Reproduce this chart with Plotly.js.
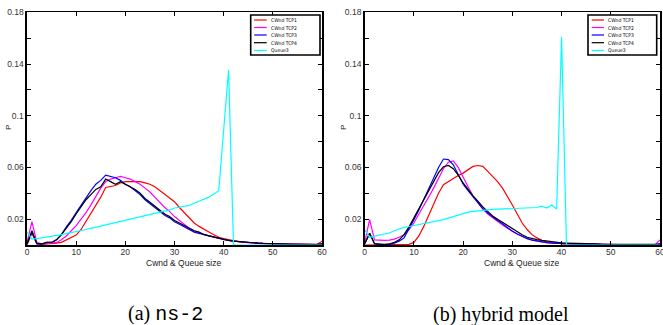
<!DOCTYPE html>
<html><head><meta charset="utf-8">
<script src="https://cdn.plot.ly/plotly-3.0.1.min.js"></script>
<style>html,body{margin:0;padding:0;background:#fff;}</style>
</head><body>
<div id="chart" style="width:663px;height:325px;"></div>
<script>
const X = [0,1,2,3,4,5,6,7,8,9,10,11,12,13,14,15,16,17,18,19,20,21,22,23,24,25,26,27,28,29,30,31,32,33,34,35,36,37,38,39,40,41,42,43,44,45,46,47,48,49,50,51,52,53,54,55,56,57,58,59,60];
const seriesNames = ['CWnd TCP1','CWnd TCP2','CWnd TCP3','CWnd TCP4','Queue3'];
const seriesColors = ['#ff0000','#ff00ff','#0000ff','#000000','#00ffff'];

// (a) ns-2
const ns2_tcp1 = [0,0.009,0.001,0.0005,0.0008,0.001,0.0015,0.002,0.004,0.006,0.0077,0.012,0.018,0.024,0.030,0.037,0.0445,0.045,0.046,0.048,0.049,0.049,0.0492,0.049,0.048,0.047,0.045,0.042,0.039,0.036,0.0335,0.029,0.025,0.021,0.017,0.0144,0.012,0.010,0.008,0.006,0.005,0.004,0.0032,0.0026,0.0022,0.0018,0.0015,0.0013,0.0011,0.001,0.0009,0.0008,0.0007,0.0006,0.0005,0.0004,0.0004,0.0003,0.0003,0.0003,0.003];
const ns2_tcp2 = [0.002,0.018,0.002,0.001,0.001,0.0015,0.002,0.004,0.007,0.011,0.015,0.020,0.025,0.031,0.038,0.044,0.049,0.051,0.052,0.053,0.052,0.051,0.049,0.047,0.044,0.041,0.037,0.033,0.029,0.026,0.022,0.019,0.016,0.013,0.011,0.0095,0.008,0.007,0.006,0.005,0.0042,0.0036,0.003,0.0026,0.0022,0.0019,0.0016,0.0014,0.0012,0.001,0.0009,0.0008,0.0007,0.0006,0.0005,0.0005,0.0004,0.0004,0.0003,0.0003,0.001];
const ns2_tcp3 = [0.001,0.010,0.001,0.0005,0.002,0.002,0.004,0.008,0.014,0.019,0.025,0.031,0.037,0.042,0.047,0.050,0.054,0.053,0.052,0.050,0.047,0.045,0.042,0.039,0.035,0.032,0.029,0.026,0.023,0.021,0.018,0.016,0.014,0.012,0.010,0.009,0.008,0.007,0.006,0.005,0.004,0.0035,0.003,0.0026,0.0022,0.0019,0.0016,0.0014,0.0012,0.001,0.0009,0.0008,0.0007,0.0006,0.0005,0.0005,0.0004,0.0004,0.0003,0.0003,0.001];
const ns2_tcp4 = [0.001,0.011,0.001,0.001,0.002,0.002,0.004,0.008,0.013,0.018,0.024,0.030,0.035,0.039,0.043,0.045,0.051,0.049,0.047,0.049,0.047,0.045,0.043,0.040,0.036,0.033,0.030,0.027,0.024,0.022,0.019,0.017,0.015,0.013,0.011,0.010,0.008,0.007,0.006,0.005,0.0042,0.0036,0.003,0.0026,0.0022,0.0019,0.0016,0.0014,0.0012,0.001,0.0009,0.0008,0.0007,0.0006,0.0005,0.0005,0.0004,0.0004,0.0003,0.0003,0.0005];
const ns2_queue = [0.010,0.0046,0.005,0.0055,0.006,0.0068,0.0075,0.008,0.0088,0.0095,0.0103,0.0112,0.012,0.0129,0.0138,0.0147,0.0155,0.0164,0.0173,0.0182,0.019,0.0199,0.0208,0.0217,0.0225,0.0234,0.0242,0.025,0.0258,0.0272,0.0286,0.0293,0.030,0.0306,0.0323,0.034,0.0355,0.037,0.0395,0.042,0.089,0.1354,0,0,0,0,0,0,0,0,0,0,0,0,0,0,0,0,0,0,0];

// (b) hybrid model
const hyb_tcp1 = [0,0,0,0,0,0,0,0,0,0.0005,0.002,0.007,0.0144,0.023,0.032,0.040,0.0466,0.049,0.0518,0.0537,0.0556,0.058,0.0608,0.0615,0.0608,0.057,0.053,0.049,0.044,0.038,0.031,0.024,0.017,0.012,0.008,0.0055,0.0036,0.0025,0.0018,0.0013,0.001,0.0009,0.0008,0.0007,0.0006,0.0005,0.0005,0.0004,0.0004,0.0004,0.0003,0.0003,0.0003,0.0003,0.0002,0.0002,0.0002,0.0002,0.0002,0.0002,0.0005];
const hyb_tcp2 = [0.002,0.0196,0.004,0.0036,0.0036,0.0038,0.0046,0.006,0.008,0.012,0.017,0.024,0.030,0.037,0.044,0.052,0.059,0.064,0.065,0.060,0.052,0.045,0.038,0.033,0.028,0.024,0.021,0.018,0.0155,0.013,0.0105,0.0085,0.0068,0.005,0.004,0.003,0.0023,0.0018,0.0015,0.0012,0.001,0.0009,0.0008,0.0007,0.0006,0.0005,0.0005,0.0004,0.0004,0.0004,0.0003,0.0003,0.0003,0.0003,0.0002,0.0002,0.0002,0.0002,0.0002,0.0002,0.004];
const hyb_tcp3 = [0.001,0.009,0.001,0.0003,0.0003,0.0005,0.0015,0.003,0.0055,0.012,0.0196,0.027,0.035,0.043,0.051,0.060,0.0665,0.066,0.062,0.055,0.047,0.042,0.0376,0.033,0.028,0.0247,0.0215,0.019,0.0165,0.0135,0.0106,0.0085,0.0065,0.0049,0.0038,0.003,0.0023,0.0018,0.0015,0.0012,0.001,0.0009,0.0008,0.0007,0.0006,0.0005,0.0005,0.0004,0.0004,0.0004,0.0003,0.0003,0.0003,0.0003,0.0002,0.0002,0.0002,0.0002,0.0002,0.0002,0.001];
const hyb_tcp4 = [0.001,0.009,0.001,0.0005,0.0005,0.0008,0.002,0.004,0.008,0.014,0.021,0.029,0.036,0.043,0.050,0.056,0.0605,0.0615,0.059,0.054,0.048,0.043,0.038,0.034,0.0295,0.026,0.0225,0.020,0.0175,0.015,0.0124,0.010,0.008,0.006,0.005,0.0042,0.0036,0.003,0.0025,0.002,0.0017,0.0015,0.0013,0.0012,0.0011,0.001,0.0009,0.0008,0.0007,0.0007,0.0006,0.0006,0.0005,0.0005,0.0005,0.0005,0.0005,0.0005,0.0005,0.0005,0.0005];
const hyb_queue = [0.0118,0.006,0.0068,0.0075,0.0085,0.0093,0.011,0.0125,0.0136,0.0143,0.015,0.0157,0.0163,0.017,0.0179,0.0188,0.0196,0.0208,0.022,0.0233,0.0247,0.0254,0.026,0.0265,0.027,0.0273,0.0275,0.0277,0.0278,0.028,0.0283,0.0285,0.0286,0.0288,0.0289,0.029,0.030,0.0286,0.031,0.0278,0.161,0,0,0,0,0,0,0,0,0,0,0,0,0,0,0,0,0,0,0,0];

const ns2Series = [ns2_tcp1, ns2_tcp2, ns2_tcp3, ns2_tcp4, ns2_queue];
const hybSeries = [hyb_tcp1, hyb_tcp2, hyb_tcp3, hyb_tcp4, hyb_queue];
const xTicks = [0,10,20,30,40,50,60];
const yTicks = [0,0.02,0.04,0.06,0.08,0.1,0.12,0.14,0.16,0.18];
const yTickText = ['','0.02','','0.06','','0.1','','0.14','','0.18'];
const xTitle = 'Cwnd &amp; Queue size';
const yTitle = 'P';

const W = 663, H = 325;
const px = v => v / W, py = v => 1 - v / H;

const traces = [];
ns2Series.forEach((ys, i) => traces.push({x: X, y: ys, type: 'scatter', mode: 'lines', name: seriesNames[i], xaxis: 'x', yaxis: 'y', line: {color: seriesColors[i], width: 1.2}, showlegend: false}));
hybSeries.forEach((ys, i) => traces.push({x: X, y: ys, type: 'scatter', mode: 'lines', name: seriesNames[i], xaxis: 'x2', yaxis: 'y2', line: {color: seriesColors[i], width: 1.2}, showlegend: false}));

const sans = 'Liberation Sans, Arial, sans-serif';
const tickFont = {family: sans, size: 8.5, color: '#333'};
function xa(dom) { return {domain: dom, range: [0, 60], tickvals: xTicks, ticks: 'inside', ticklen: 4, tickcolor: '#000', showline: true, linecolor: '#000', linewidth: 1.6, mirror: 'ticks', showgrid: false, zeroline: false, tickfont: tickFont, ticklabeloverflow: 'allow', ticklabelstandoff: -2}; }
function ya(anchorX) { return {domain: [80 / H, 1 - 12.3 / H], range: [0, 0.18], tickvals: yTicks, ticktext: yTickText, ticks: 'inside', ticklen: 4, tickcolor: '#000', showline: true, linecolor: '#000', linewidth: 1.6, mirror: 'ticks', showgrid: false, zeroline: false, tickfont: tickFont, anchor: anchorX}; }

const shapes = [], annotations = [];
function legend(boxL, boxR, lineL, lineR, textL) {
  const top = 15, bottom = 55;
  const rows = [20, 27.5, 35, 42.7, 50.5];
  shapes.push({type: 'rect', xref: 'paper', yref: 'paper', x0: px(boxL), x1: px(boxR), y0: py(bottom), y1: py(top), line: {color: '#000', width: 1.6}, fillcolor: '#fff', layer: 'above'});
  rows.forEach((r, i) => {
    shapes.push({type: 'line', xref: 'paper', yref: 'paper', x0: px(lineL), x1: px(lineR), y0: py(r), y1: py(r), line: {color: seriesColors[i], width: 1.2}, layer: 'above'});
    annotations.push({xref: 'paper', yref: 'paper', x: px(textL), y: py(r), xanchor: 'left', yanchor: 'middle', showarrow: false, text: seriesNames[i], font: {family: 'DejaVu Sans Condensed, DejaVu Sans, sans-serif', size: 5, color: '#000'}});
  });
}
legend(250.7, 320, 254, 266.7, 268.5);
legend(588, 656.7, 591.7, 604, 606);

// axis titles
[[183, 8], [521, 343]].forEach(([cx, yx]) => {
  annotations.push({xref: 'paper', yref: 'paper', x: px(cx), y: py(262.5), xanchor: 'center', yanchor: 'middle', showarrow: false, text: xTitle, font: {family: sans, size: 8.5, color: '#222'}});
  annotations.push({xref: 'paper', yref: 'paper', x: px(yx), y: py(128), xanchor: 'center', yanchor: 'middle', showarrow: false, textangle: -90, text: yTitle, font: {family: sans, size: 8, color: '#222'}});
});

annotations.push({xref: 'paper', yref: 'paper', x: px(165), y: py(314), xanchor: 'center', yanchor: 'middle', showarrow: false, text: '(a) <span style="font-family:Liberation Mono, monospace">ns-2</span>', font: {family: 'Liberation Serif, Times New Roman, serif', size: 20, color: '#000'}});
annotations.push({xref: 'paper', yref: 'paper', x: px(501), y: py(314), xanchor: 'center', yanchor: 'middle', showarrow: false, text: '(b) hybrid model', font: {family: 'Liberation Serif, Times New Roman, serif', size: 20, color: '#000'}});

const layout = {
  width: W, height: H, margin: {l: 0, r: 0, t: 0, b: 0},
  paper_bgcolor: '#fff', plot_bgcolor: '#fff', showlegend: false,
  xaxis: Object.assign(xa([27 / W, 322 / W]), {anchor: 'y'}),
  yaxis: ya('x'),
  xaxis2: Object.assign(xa([364.7 / W, 660 / W]), {anchor: 'y2'}),
  yaxis2: ya('x2'),
  shapes: shapes, annotations: annotations
};
Plotly.newPlot('chart', traces, layout, {staticPlot: true, displayModeBar: false});
</script>
</body></html>
